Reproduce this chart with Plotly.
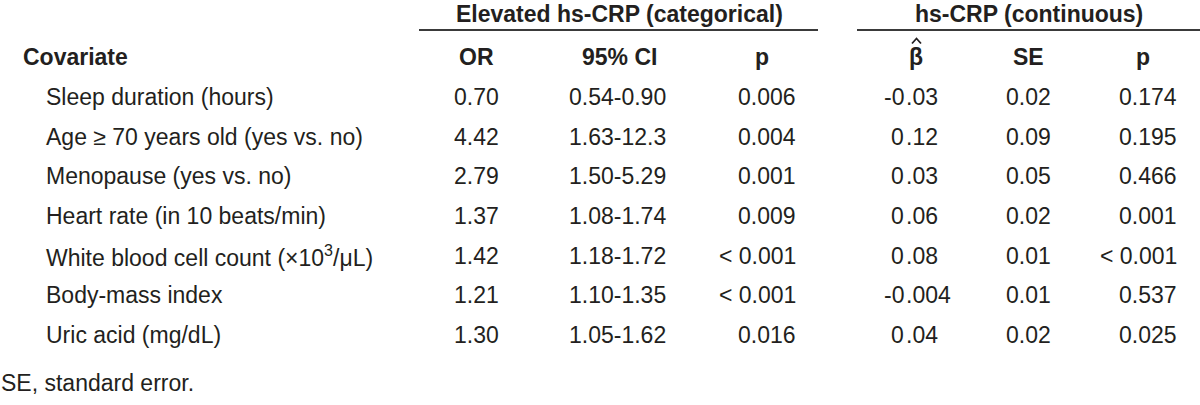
import plotly.graph_objects as go

# ---- data ----
covariates = [
    "Sleep duration (hours)",
    "Age ≥ 70 years old (yes vs. no)",
    "Menopause (yes vs. no)",
    "Heart rate (in 10 beats/min)",
    "White blood cell count (×10<sup>3</sup>/μL)",
    "Body-mass index",
    "Uric acid (mg/dL)",
]
or_vals = ["0.70", "4.42", "2.79", "1.37", "1.42", "1.21", "1.30"]
ci_vals = ["0.54-0.90", "1.63-12.3", "1.50-5.29", "1.08-1.74", "1.18-1.72", "1.10-1.35", "1.05-1.62"]
p_cat = ["0.006", "0.004", "0.001", "0.009", "< 0.001", "< 0.001", "0.016"]
beta_vals = ["-0.03", "0.12", "0.03", "0.06", "0.08", "-0.004", "0.04"]
se_vals = ["0.02", "0.09", "0.05", "0.02", "0.01", "0.01", "0.02"]
p_cont = ["0.174", "0.195", "0.466", "0.001", "< 0.001", "0.537", "0.025"]

group_titles = ["Elevated hs-CRP (categorical)", "hs-CRP (continuous)"]
col_headers = ["OR", "95% CI", "p", "β", "SE", "p"]
row_header = "Covariate"
footnote = "SE, standard error."

# ---- layout constants ----
W, H = 1200, 405
FONT = "Liberation Sans, Arial, Helvetica, sans-serif"
COLOR = "#231f20"
FS = 23
row_y0, row_dy = 97, 39.67
head_y = 57
title_y = 14

fig = go.Figure()
fig.add_trace(go.Scatter(x=[0, W], y=[0, H], mode="markers",
                         marker=dict(opacity=0), hoverinfo="skip", showlegend=False))

ann = []

def txt(x, y, s, anchor="center", bold=False, size=FS):
    if bold:
        s = "<b>" + s + "</b>"
    ann.append(dict(x=x, y=y, xref="x", yref="y", text=s, showarrow=False,
                    xanchor=anchor, yanchor="middle", borderpad=0,
                    font=dict(family=FONT, size=size, color=COLOR)))

# group titles
txt(619, title_y, group_titles[0], bold=True)
txt(1029, title_y, group_titles[1], bold=True)

# column headers
txt(22, head_y, row_header, anchor="left", bold=True)
for x, h in zip([476, 619, 762, 916, 1028, 1143], col_headers):
    txt(x, head_y, h, bold=True)

# rows
for i in range(len(covariates)):
    y = row_y0 + i * row_dy
    txt(45, y, covariates[i], anchor="left")
    txt(476, y, or_vals[i])
    txt(617, y, ci_vals[i])
    txt(797, y, p_cat[i], anchor="right")
    ip, fp = beta_vals[i].split(".")
    txt(905, y, ip, anchor="right")
    txt(905, y, "." + fp, anchor="left")
    txt(1028, y, se_vals[i])
    txt(1178, y, p_cont[i], anchor="right")

txt(0, 383, footnote, anchor="left")

shapes = [
    dict(type="line", xref="x", yref="y", x0=419, x1=818, y0=30, y1=30,
         line=dict(color="#3a3a3a", width=2)),
    dict(type="line", xref="x", yref="y", x0=857, x1=1200, y0=30, y1=30,
         line=dict(color="#3a3a3a", width=2)),
    # circumflex (hat) over beta
    dict(type="path", xref="x", yref="y", path="M 912 43.5 L 916.5 38.5 L 921 43.5",
         line=dict(color=COLOR, width=1.8)),
]

fig.update_layout(
    width=W, height=H, margin=dict(l=0, r=0, t=0, b=0),
    paper_bgcolor="white", plot_bgcolor="white",
    xaxis=dict(range=[0, W], visible=False, fixedrange=True),
    yaxis=dict(range=[H, 0], visible=False, fixedrange=True),
    annotations=ann, shapes=shapes, showlegend=False,
)
fig.write_html("out.html", config={"displayModeBar": False},
               post_script="document.body.style.margin='0';")
